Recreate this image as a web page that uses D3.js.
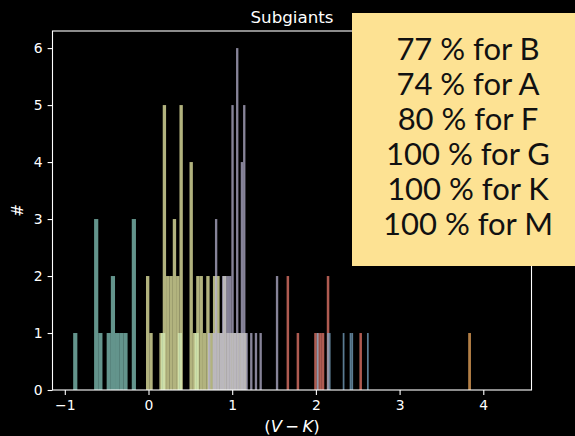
<!DOCTYPE html>
<html>
<head>
<meta charset="utf-8">
<script src="https://cdn.jsdelivr.net/npm/d3@7"></script>
<style>
  html, body { margin: 0; padding: 0; background: #000; }
  svg { display: block; }
</style>
</head>
<body>
<div id="chart"></div>
<script>
// Spectral types and their plotting colours
const typeNames = ["B", "A", "F", "G", "K", "M"];
const typeColors = ["#8dd3c7", "#feffb3", "#bfbbd9", "#fa8174", "#81b1d2", "#fdb462"];
const fractions = [77, 74, 80, 100, 100, 100];

// Histogram of (V-K) per spectral type: first bin edge, bin width, counts per bin
const binStart = [-0.90, -0.03, 0.71, 1.65, 2.01, 3.32];
const binWidth = [0.05, 0.04, 0.028, 0.03, 0.0207, 0.0333];
const countsB = [1,0,0,0,0,3,1,0,1,2,1,1,1,0,3,0,0,0,0,0,0,1,0,0,0,1,0,0,0,1];
const countsA = [2,1,0,0,1,5,2,2,3,2,5,0,0,4,1,2,2,1,2,1,2,2,1,2,1,1,1,1,1,1];
const countsF = [1,0,1,3,1,1,2,2,2,2,5,1,6,1,4,5,1,0,1,0,1,0,1,0,0,0,0,0,0,2];
const countsG = [2,0,0,0,1,0,0,0,0,0,0,1,1,1,1,0,2,0,0,0,0,0,0,0,0,0,0,0,0,1];
const countsK = [1,0,0,0,0,0,1,1,0,0,0,0,0,0,0,1,0,0,0,1,1,0,0,0,0,0,0,0,0,1];
const countsM = [0,0,0,0,0,0,0,0,0,0,0,0,0,0,0,1,0,0,0,0,0,0,0,0,0,0,0,0,0,0];
const allCounts = [countsB, countsA, countsF, countsG, countsK, countsM];

const xTicks = [-1, 0, 1, 2, 3, 4];
const yTicks = [0, 1, 2, 3, 4, 5, 6];

const W = 575, H = 436;
const margin = { left: 52.5, right: 43.5, top: 31, bottom: 46 };

const svg = d3.select("#chart").append("svg")
  .attr("width", W).attr("height", H)
  .style("background", "#000");

const x = d3.scaleLinear().domain([-1.147, 4.576]).range([margin.left, W - margin.right]);
const y = d3.scaleLinear().domain([0, 6.3]).range([H - margin.bottom, margin.top]);

// bars, one histogram per type, drawn translucent on top of each other
typeNames.forEach((t, i) => {
  const bins = allCounts[i]
    .map((c, k) => ({ x0: binStart[i] + k * binWidth[i], x1: binStart[i] + (k + 1) * binWidth[i], c }))
    .filter(d => d.c > 0);
  svg.append("g").attr("class", "hist-" + t)
    .selectAll("rect").data(bins).join("rect")
    .attr("x", d => x(d.x0))
    .attr("width", d => x(d.x1) - x(d.x0))
    .attr("y", d => y(d.c))
    .attr("height", d => y(0) - y(d.c))
    .attr("fill", typeColors[i])
    .attr("fill-opacity", 0.7);
});

const font = "DejaVu Sans, sans-serif";
const intFmt = d3.format("d");

// axes
const xAxis = svg.append("g")
  .attr("transform", `translate(0,${y(0)})`)
  .call(d3.axisBottom(x).tickValues(xTicks).tickFormat(intFmt)
    .tickSize(4.9).tickPadding(4.9).tickSizeOuter(0));
const yAxis = svg.append("g")
  .attr("transform", `translate(${margin.left},0)`)
  .call(d3.axisLeft(y).tickValues(yTicks).tickFormat(intFmt)
    .tickSize(4.9).tickPadding(4.9).tickSizeOuter(0));
[xAxis, yAxis].forEach(a => {
  a.select(".domain").remove();
  a.selectAll(".tick line").attr("stroke", "#fff").attr("stroke-width", 1.1);
  a.selectAll(".tick text").attr("fill", "#fff").style("font-family", font).style("font-size", "13.9px");
});

// frame
svg.append("rect")
  .attr("x", margin.left).attr("y", margin.top)
  .attr("width", W - margin.right - margin.left)
  .attr("height", y(0) - margin.top)
  .attr("fill", "none").attr("stroke", "#fff").attr("stroke-width", 1.1);

// title and axis labels
svg.append("text")
  .attr("x", (margin.left + W - margin.right) / 2).attr("y", 23)
  .attr("text-anchor", "middle").attr("fill", "#fff")
  .style("font-family", font).style("font-size", "16.7px")
  .text("Subgiants");

const xl = svg.append("text")
  .attr("x", (margin.left + W - margin.right) / 2).attr("y", 432)
  .attr("text-anchor", "middle").attr("fill", "#fff")
  .style("font-family", font).style("font-size", "16.5px");
xl.append("tspan").text("(");
xl.append("tspan").style("font-style", "italic").text("V");
xl.append("tspan").text("\u2009\u2212\u2009");
xl.append("tspan").style("font-style", "italic").text("K");
xl.append("tspan").text(")");

svg.append("text")
  .attr("transform", `translate(23,${(margin.top + y(0)) / 2}) rotate(-90)`)
  .attr("text-anchor", "middle").attr("fill", "#fff")
  .style("font-family", font).style("font-size", "15px")
  .text("#");

// summary box
svg.append("rect")
  .attr("x", 352).attr("y", 13).attr("width", 240).attr("height", 253)
  .attr("fill", "#fde293");
const box = svg.append("text")
  .attr("text-anchor", "middle").attr("fill", "#111")
  .style("font-family", "Lato, sans-serif").style("font-size", "31px");
typeNames.forEach((t, i) => {
  box.append("tspan")
    .attr("x", 468).attr("y", 60 + i * 34.9)
    .text(`${fractions[i]} % for ${t}`);
});
</script>
</body>
</html>
